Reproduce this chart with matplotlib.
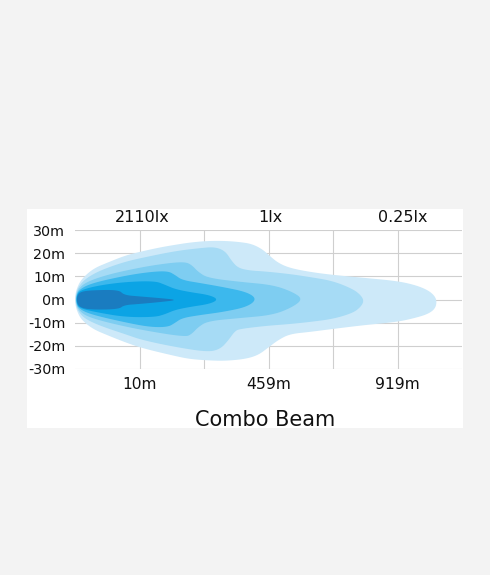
import numpy as np
import matplotlib.pyplot as plt
from matplotlib.patches import Polygon, Rectangle

plt.rcParams['font.family'] = ['DejaVu Sans']

# axis labels
width_ticks = [30, 20, 10, 0, -10, -20, -30]
dist_pos = [1, 3, 5]
dist_labels = ['10m', '459m', '919m']
lux_pos = [1.05, 3.03, 5.08]
lux_labels = ['2110lx', '1lx', '0.25lx']

# isolux zones, outer to inner: x = distance (grid steps), y = lateral spread (m)
zone1_x = [0, 0.03, 0.10, 0.28, 0.51, 0.78, 1.04, 1.32, 1.55, 1.78, 2.06, 2.33, 2.56, 2.74,
           2.90, 3.02, 3.15, 3.33, 3.64, 4.0, 4.50, 4.99, 5.27, 5.47, 5.58, 5.61,
           5.58, 5.47, 5.27, 4.99, 4.50, 4.0, 3.64, 3.33, 3.15, 2.99, 2.84, 2.64, 2.33,
           2.06, 1.78, 1.55, 1.04, 0.78, 0.51, 0.28, 0.10, 0.03, 0]
zone1_y = [1.5, 5.0, 8.8, 13.3, 16.0, 19.0, 20.8, 22.5, 23.6, 24.6, 25.3, 25.3, 24.8, 24.0,
           21.8, 18.8, 15.8, 13.6, 11.9, 10.6, 9.3, 8.0, 6.3, 4.1, 1.5, -1.1,
           -4.1, -6.3, -8.0, -9.7, -11.0, -12.7, -14.0, -14.9, -17.5, -20.9, -24.0, -25.7, -26.5,
           -26.3, -25.7, -24.4, -21.0, -18.5, -15.5, -12.8, -8.8, -5.0, -1.5]

zone2_x = [0.01, 0.04, 0.13, 0.30, 0.51, 0.78, 1.04, 1.55, 1.94, 2.17, 2.33, 2.43, 2.53, 2.71,
           2.95, 3.33, 3.64, 4.0, 4.31, 4.43, 4.48, 4.43, 4.31, 4.0, 3.64, 3.33, 2.95, 2.56,
           2.48, 2.37, 2.25, 2.06, 1.55, 1.04, 0.78, 0.51, 0.30, 0.13, 0.04, 0.01]
zone2_y = [1.5, 4.8, 8.2, 11.3, 13.8, 16.3, 18.0, 20.9, 22.2, 22.7, 20.9, 16.6, 13.6, 12.5,
           12.1, 11.0, 9.7, 8.0, 4.5, 1.9, -0.6, -3.2, -5.8, -8.4, -9.7, -10.6, -11.4, -12.7,
           -13.6, -17.9, -21.4, -22.7, -20.5, -17.5, -15.0, -12.5, -10.3, -7.8, -4.6, -1.5]

zone3_x = [0.015, 0.05, 0.17, 0.51, 1.04, 1.47, 1.71, 1.81, 1.91, 2.06, 2.56, 3.07, 3.38, 3.53,
           3.38, 3.07, 2.56, 2.06, 1.91, 1.81, 1.71, 1.04, 0.51, 0.17, 0.05, 0.015]
zone3_y = [1.5, 4.5, 7.5, 10.8, 14.0, 15.8, 16.2, 14.9, 11.9, 9.3, 7.6, 6.3, 3.2, 0.2,
           -3.2, -6.7, -8.0, -9.3, -11.9, -14.9, -16.2, -13.2, -10.0, -7.2, -4.3, -1.5]

zone4_x = [0.02, 0.06, 0.25, 0.78, 1.16, 1.44, 1.55, 1.66, 1.94, 2.29, 2.67, 2.82,
           2.67, 2.29, 1.94, 1.66, 1.55, 1.44, 1.16, 0.78, 0.25, 0.06, 0.02]
zone4_y = [1.5, 4.2, 7.0, 10.3, 11.9, 12.3, 10.6, 8.4, 7.1, 5.4, 3.2, 0.2,
           -3.2, -5.4, -6.7, -8.0, -10.1, -11.9, -11.9, -9.9, -6.5, -4.0, -1.5]

zone5_x = [0.025, 0.07, 0.35, 0.78, 1.24, 1.40, 1.55, 1.78, 2.09, 2.22,
           2.09, 1.78, 1.55, 1.40, 1.24, 0.78, 0.35, 0.07, 0.025]
zone5_y = [1.5, 3.9, 6.0, 7.6, 8.0, 6.3, 4.5, 3.2, 1.9, 0,
           -1.9, -3.2, -4.5, -6.3, -7.6, -7.6, -5.6, -3.8, -1.5]

zone6_x = [0.03, 0.08, 0.25, 0.68, 0.76, 1.01, 1.32, 1.6, 1.32, 1.01, 0.76, 0.68, 0.25, 0.08, 0.03]
zone6_y = [1.4, 3.3, 4.0, 4.2, 1.9, 1.3, 0.6, -0.2, -1.1, -1.9, -2.4, -4.2, -4.4, -3.5, -1.4]

zones = [(zone1_x, zone1_y), (zone2_x, zone2_y), (zone3_x, zone3_y),
         (zone4_x, zone4_y), (zone5_x, zone5_y), (zone6_x, zone6_y)]
zone_colors = ['#cde9f9', '#a6dbf5', '#7ecdf1', '#3cb8ed', '#0ba4e5', '#1a7cc0']


def smooth(xs, ys, n=3):
    # chaikin corner cutting on a closed outline
    pts = np.column_stack([xs, ys]).astype(float)
    for _ in range(n):
        nxt = np.roll(pts, -1, axis=0)
        out = np.empty((2 * len(pts), 2))
        out[0::2] = 0.75 * pts + 0.25 * nxt
        out[1::2] = 0.25 * pts + 0.75 * nxt
        pts = out
    return pts


fig = plt.figure(figsize=(4.9, 5.75), dpi=100)
fig.patch.set_facecolor('#f3f3f3')
fig.patches.append(Rectangle((27 / 490, 1 - 428 / 575), 436 / 490, 219 / 575,
                             transform=fig.transFigure, facecolor='white',
                             edgecolor='none', zorder=-10))

ax = fig.add_axes([75 / 490, 206 / 575, 387 / 490, 139 / 575])
ax.set_facecolor('white')
ax.set_xlim(0, 6)
ax.set_ylim(-30, 30)

for gx in range(1, 6):
    ax.axvline(gx, color='#cfcfcf', lw=0.8, zorder=1)
for gy in width_ticks:
    ax.axhline(gy, color='#cfcfcf', lw=0.8, zorder=1)

for (zx, zy), c in zip(zones, zone_colors):
    ax.add_patch(Polygon(smooth(zx, zy), closed=True, facecolor=c,
                         edgecolor='none', zorder=2))

for s in ax.spines.values():
    s.set_visible(False)

ax.set_yticks(width_ticks)
ax.set_yticklabels([f'{v}m' for v in width_ticks], fontsize=10.3, color='#111111')
ax.set_xticks(dist_pos)
ax.set_xticklabels(dist_labels, fontsize=11.2, color='#111111')
ax.tick_params(axis='y', length=0, pad=7)
ax.tick_params(axis='x', length=0, pad=6)

for p, lab in zip(lux_pos, lux_labels):
    ax.text(p, 1.09, lab, transform=ax.get_xaxis_transform(), ha='center',
            va='center', fontsize=11.5, color='#111111')

fig.text(265 / 490, 1 - 426 / 575, 'Combo Beam', ha='center', va='baseline',
         fontsize=15, color='#111111')

fig.savefig('out.png', dpi=100, facecolor=fig.get_facecolor())
